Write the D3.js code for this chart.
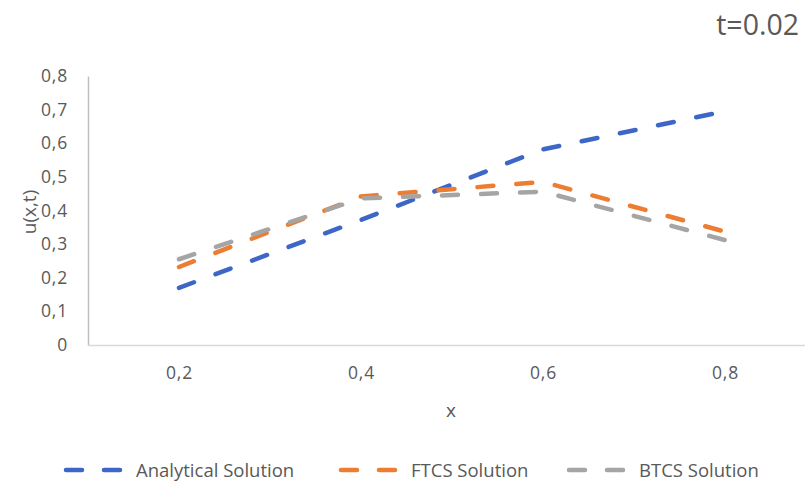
<!DOCTYPE html>
<html>
<head>
<meta charset="utf-8">
<script src="https://cdn.jsdelivr.net/npm/d3@7"></script>
<style>
  body { margin: 0; background: #fff; }
  text { font-family: "Open Sans", sans-serif; fill: #595959; }
</style>
</head>
<body>
<div id="chart"></div>
<script>
// chart data
var xCats = ["0,2", "0,4", "0,6", "0,8"];
var analytical = [0.17, 0.372, 0.582, 0.695];
var ftcs = [0.232, 0.442, 0.485, 0.337];
var btcs = [0.255, 0.436, 0.456, 0.312];
var yTicks = [0, 0.1, 0.2, 0.3, 0.4, 0.5, 0.6, 0.7, 0.8];
var seriesNames = ["Analytical Solution", "FTCS Solution", "BTCS Solution"];
var colors = ["#3d66c6", "#ed7d31", "#a5a5a5"];

var W = 805, H = 487;
var svg = d3.select("#chart").append("svg").attr("width", W).attr("height", H);

var x = d3.scalePoint().domain(xCats).range([88, 816]).padding(0.5);
var y = d3.scaleLinear().domain([0, 0.8]).range([345, 76]);

// y axis
var yAxis = d3.axisLeft(y).tickValues(yTicks).tickSize(0).tickPadding(20)
    .tickFormat(function(d){ return d === 0 ? "0" : d3.format(".1f")(d).replace(".", ","); });
var gy = svg.append("g").attr("transform", "translate(88,0)").call(yAxis);
gy.select(".domain").attr("stroke", "#bfbfbf").attr("stroke-width", 1.5);
gy.selectAll("text").attr("font-size", 17.5).style("letter-spacing", "0.8px").attr("fill", "#595959");

// x axis
var xAxis = d3.axisBottom(x).tickSize(0).tickSizeOuter(0).tickPadding(22);
var gx = svg.append("g").attr("transform", "translate(0,345)").call(xAxis);
gx.select(".domain").attr("stroke", "#d9d9d9").attr("stroke-width", 1.5);
gx.selectAll("text").attr("font-size", 17.5).style("letter-spacing", "0.8px").attr("fill", "#595959");

// lines
var line = d3.line().x(function(d, i){ return x(xCats[i]); }).y(function(d){ return y(d); });
[analytical, ftcs, btcs].forEach(function(s, k){
    svg.append("path")
        .datum(s)
        .attr("d", line)
        .attr("fill", "none")
        .attr("stroke", colors[k])
        .attr("stroke-width", 4.5)
        .attr("stroke-linecap", "round")
        .attr("stroke-dasharray", "16,23");
});

// titles
svg.append("text").attr("x", 799).attr("y", 35).attr("text-anchor", "end")
    .attr("font-size", 28.5).text("t=0.02");
svg.append("text").attr("transform", "translate(36,212) rotate(-90)")
    .attr("text-anchor", "middle").attr("font-size", 19).text("u(x,t)");
svg.append("text").attr("x", 451).attr("y", 417).attr("text-anchor", "middle")
    .attr("font-size", 19).text("x");

// legend
var legX = [64, 339, 567];
seriesNames.forEach(function(n, k){
    var g = svg.append("g").attr("transform", "translate(" + legX[k] + ",470)");
    g.append("line").attr("x1", 2).attr("x2", 58).attr("y1", 0).attr("y2", 0)
        .attr("stroke", colors[k]).attr("stroke-width", 4.5)
        .attr("stroke-linecap", "round").attr("stroke-dasharray", "16,22");
    g.append("text").attr("x", 72).attr("y", 6.5).attr("font-size", 18.5).text(n);
});
</script>
</body>
</html>
